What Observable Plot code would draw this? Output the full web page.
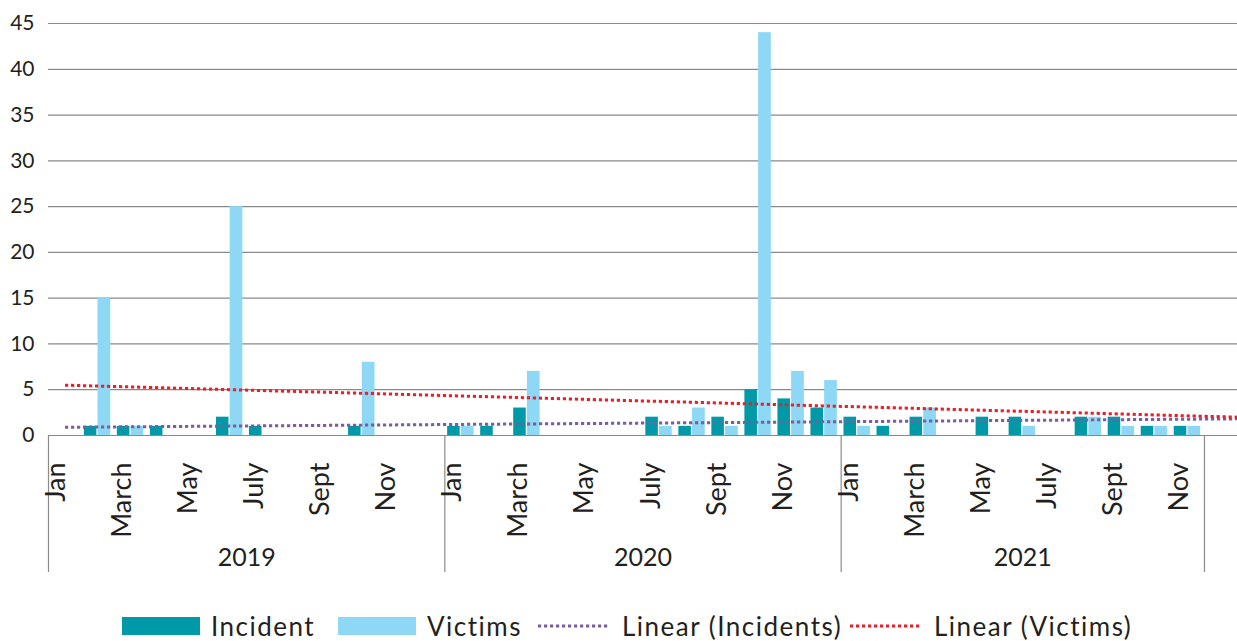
<!DOCTYPE html>
<html><head><meta charset="utf-8">
<script src="https://cdn.jsdelivr.net/npm/d3@7"></script>
<script src="https://cdn.jsdelivr.net/npm/@observablehq/plot@0.6"></script>
<style>
html,body{margin:0;padding:0;background:#fff;overflow:hidden;}
body{font-family:Lato,"Noto Sans",sans-serif;color:#231f20;}
#chart svg{display:block;}
#legend{position:relative;height:56px;}
.item{position:absolute;top:13px;height:56px;display:flex;align-items:center;font-size:26px;letter-spacing:1.5px;white-space:nowrap;}
.sw{display:inline-block;width:78px;height:18px;margin-right:11px;}
.ln{margin-right:12px;display:block;}
</style></head><body>
<div id="chart"></div>
<div id="legend"></div>
<script>
// ---- data ----
const years = ["2019", "2020", "2021"];
const monthNames = ["Jan","Feb","March","April","May","June","July","Aug","Sept","Oct","Nov","Dec"];
const incidents = [0,1,1,1,0,2,1,0,0,1,0,0,  1,1,3,0,0,0,2,1,2,5,4,3,  2,1,2,0,2,2,0,2,2,1,1];
const victims   = [0,15,1,0,0,25,0,0,0,8,0,0, 1,0,7,0,0,0,1,3,1,44,7,6, 1,0,3,0,0,1,0,2,1,1,1];
const trendIncidents = [0.9, 1.82];   // start of trend (Jan 2019), right edge of chart
const trendVictims   = [5.5, 2.0];
const yTicks = [0,5,10,15,20,25,30,35,40,45];
const seriesNames = ["Incident", "Victims", "Linear (Incidents)", "Linear (Victims)"];
const colors = {inc:"#0099a8", vic:"#8ed8f6", tInc:"#7b5e9b", tVic:"#e8202a"};

// ---- derived tables ----
const n = incidents.length;
const slots = n + 1; // one trailing empty category
const rows = incidents.map((v, i) => ({i, inc: v, vic: victims[i], month: monthNames[i % 12], year: years[Math.floor(i / 12)]}));
const bounds = [-0.5];
years.forEach((y, k) => bounds.push(Math.min((k + 1) * 12, n) - 0.5));
const yearCenters = years.map((y, k) => ({year: y, x: (bounds[k] + bounds[k + 1]) / 2}));
const trendX = [0, slots - 0.5];
const tInc = trendX.map((x, k) => ({x, y: trendIncidents[k]}));
const tVic = trendX.map((x, k) => ({x, y: trendVictims[k]}));

const dots = {strokeWidth: 3, strokeDasharray: "3.2 2.8", strokeLinecap: "butt"};
const chart = Plot.plot({
  width: 1237, height: 585,
  marginLeft: 48, marginRight: 0, marginTop: 23, marginBottom: 150,
  x: {type: "linear", domain: [-0.5, slots - 0.5], axis: null},
  y: {domain: [0, 45], axis: null},
  style: {fontFamily: "Lato, 'Noto Sans', sans-serif", color: "#231f20", background: "#fff", overflow: "visible"},
  marks: [
    Plot.ruleY(yTicks, {stroke: "#8a8a8a", strokeWidth: 1.2}),
    Plot.axisY({ticks: yTicks, tickSize: 0, tickPadding: 14, fontSize: 21, label: null, fill: "#231f20"}),
    Plot.ruleX(bounds, {stroke: "#8a8a8a", strokeWidth: 1.2, insetTop: 412, insetBottom: -137}),
    Plot.rect(rows.filter(d => d.inc > 0), {x1: d => d.i - 0.415, x2: d => d.i - 0.035, y1: 0, y2: "inc", fill: colors.inc}),
    Plot.rect(rows.filter(d => d.vic > 0), {x1: d => d.i + 0.0, x2: d => d.i + 0.385, y1: 0, y2: "vic", fill: colors.vic}),
    Plot.line(tInc, {x: "x", y: "y", stroke: colors.tInc, ...dots}),
    Plot.line(tVic, {x: "x", y: "y", stroke: colors.tVic, ...dots}),
    Plot.text(rows.filter(d => d.i % 2 === 0), {x: "i", text: "month", frameAnchor: "bottom", dy: 27, rotate: -90, textAnchor: "end", fontSize: 27, fill: "#231f20"}),
    Plot.text(yearCenters, {x: "x", text: "year", frameAnchor: "bottom", dy: 130, fontSize: 25, fill: "#231f20"})
  ]
});
document.getElementById("chart").append(chart);

// ---- legend ----
const legend = document.getElementById("legend");
const lefts = [122, 338, 538, 850];
const kinds = [["sw", colors.inc], ["sw", colors.vic], ["ln", colors.tInc], ["ln", colors.tVic]];
seriesNames.forEach((name, k) => {
  const it = document.createElement("div");
  it.className = "item";
  it.style.left = lefts[k] + "px";
  const [kind, c] = kinds[k];
  if (kind === "sw") {
    const s = document.createElement("span");
    s.className = "sw"; s.style.background = c;
    it.append(s);
  } else {
    const s = document.createElementNS("http://www.w3.org/2000/svg", "svg");
    s.setAttribute("width", 72); s.setAttribute("height", 6); s.setAttribute("class", "ln");
    const l = document.createElementNS("http://www.w3.org/2000/svg", "line");
    l.setAttribute("x1", 0); l.setAttribute("x2", 72); l.setAttribute("y1", 3); l.setAttribute("y2", 3);
    l.setAttribute("stroke", c); l.setAttribute("stroke-width", 3); l.setAttribute("stroke-dasharray", "3.2 2.8");
    s.append(l); it.append(s);
  }
  const t = document.createElement("span");
  t.textContent = name;
  it.append(t);
  legend.append(it);
});
</script>
</body></html>
